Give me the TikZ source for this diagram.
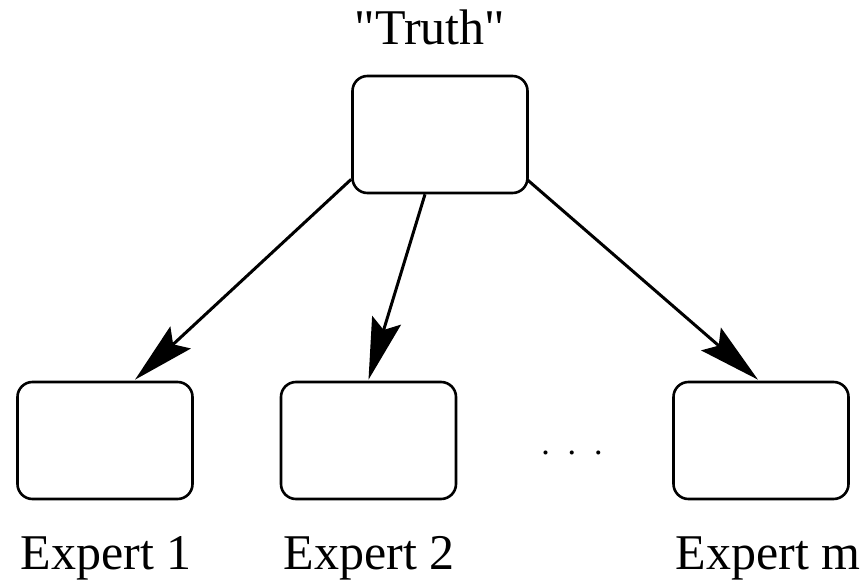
\documentclass[tikz,border=0pt]{standalone}
\usepackage{fontspec}
\setmainfont{Liberation Serif}
\newfontfamily\qfont[Ligatures=TeXOff]{Liberation Serif}
\usetikzlibrary{arrows.meta}
\begin{document}
\begin{tikzpicture}[x=1pt,y=-1pt,
  box/.style={draw,line width=2.6pt,rounded corners=15pt,minimum width=175pt,minimum height=117pt,inner sep=0pt},
  lbl/.style={anchor=base,inner sep=0pt,font=\fontsize{50}{50}\selectfont},
  arr/.style={line width=3pt,-{Stealth[length=62pt,width=30pt,inset=10pt]}}]
\useasboundingbox (0,0) rectangle (867,580);
\node[box] (truth) at (440,134.5) {};
\node[box] (e1) at (105,440.5) {};
\node[box] (e2) at (368.5,440.5) {};
\node[box] (em) at (761,440.5) {};
\node[lbl] (tl) at (430,45) {\qfont "Truth"};
\node[lbl] (l1) at (106,569) {Expert 1};
\node[lbl] (l2) at (369,569) {Expert 2};
\node[lbl] (lm) at (768,569) {Expert m};
\node[anchor=base,inner sep=0pt,font=\fontsize{34}{34}\selectfont] (dots) at (572,454) {.\hspace{18pt}.\hspace{18pt}.};
\draw[arr] ([yshift=15pt]truth.south west) -- ([xshift=30pt,yshift=1pt]e1.north);
\draw[arr] ([xshift=-15pt]truth.south) -- ([yshift=1pt]e2.north);
\draw[arr] ([xshift=-2pt,yshift=15pt]truth.south east) -- ([xshift=-3pt,yshift=1pt]em.north);
\end{tikzpicture}
\end{document}
